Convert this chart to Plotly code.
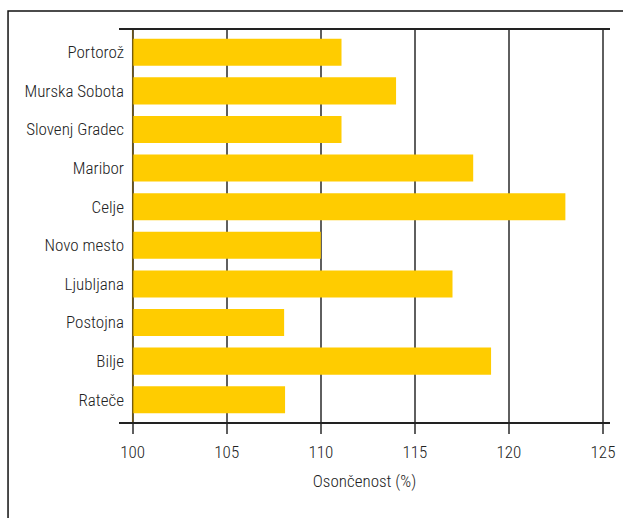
import plotly.graph_objects as go

cities = ["Portorož", "Murska Sobota", "Slovenj Gradec", "Maribor", "Celje",
          "Novo mesto", "Ljubljana", "Postojna", "Bilje", "Rateče"]
values = [111.1, 114.0, 111.1, 118.1, 123.0, 110.0, 117.0, 108.05, 119.05, 108.1]
base_value = 100
tick_vals = [100, 105, 110, 115, 120, 125]
tick_text = ["100", "105", "110", "115", "120", "125"]
x_title = "Osončenost (%)"

FONT = "Roboto Condensed, Roboto, sans-serif"

fig = go.Figure(go.Bar(
    y=cities,
    x=[v - base_value for v in values],
    base=base_value,
    orientation="h",
    marker=dict(color="#FFCC00", line=dict(width=0)),
    hoverinfo="skip",
))

fig.update_layout(
    width=623, height=518,
    margin=dict(l=119, r=13, t=30, b=96),
    paper_bgcolor="white", plot_bgcolor="white",
    bargap=0.3,
    showlegend=False,
    font=dict(family=FONT, size=17, color="#222222", weight=300),
    xaxis=dict(
        range=[99.272, 125.372],
        tickvals=tick_vals, ticktext=tick_text,
        showgrid=True, gridcolor="#5f5f5f", gridwidth=1.5,
        zeroline=False, automargin=False,
        showline=True, mirror=True, linecolor="#222222", linewidth=1.5,
        ticks="outside", ticklen=10, tickwidth=1.5, tickcolor="#5f5f5f",
        ticklabelstandoff=4,
        tickfont=dict(family=FONT, size=17, color="#222222", weight=300),
        title=dict(text=x_title, standoff=14,
                   font=dict(family=FONT, size=17, color="#222222", weight=300)),
    ),
    yaxis=dict(
        categoryorder="array", categoryarray=cities,
        range=[9.577, -0.577],
        showgrid=False, zeroline=False, showline=False, automargin=False,
        ticks="", ticklabelstandoff=-6,
        tickfont=dict(family=FONT, size=17, color="#222222", weight=300),
    ),
    shapes=[
        dict(type="line", xref="x", yref="paper", x0=base_value, x1=base_value, y0=0, y1=1,
             line=dict(color="rgba(110,80,0,0.75)", width=1.5), layer="above"),
        dict(type="rect", xref="paper", yref="paper", x0=-0.226, x1=1.05, y0=-0.3, y1=1.0485,
             line=dict(color="#111111", width=1.5), fillcolor="rgba(0,0,0,0)", layer="above"),
    ],
)

fig.write_html("out.html")
